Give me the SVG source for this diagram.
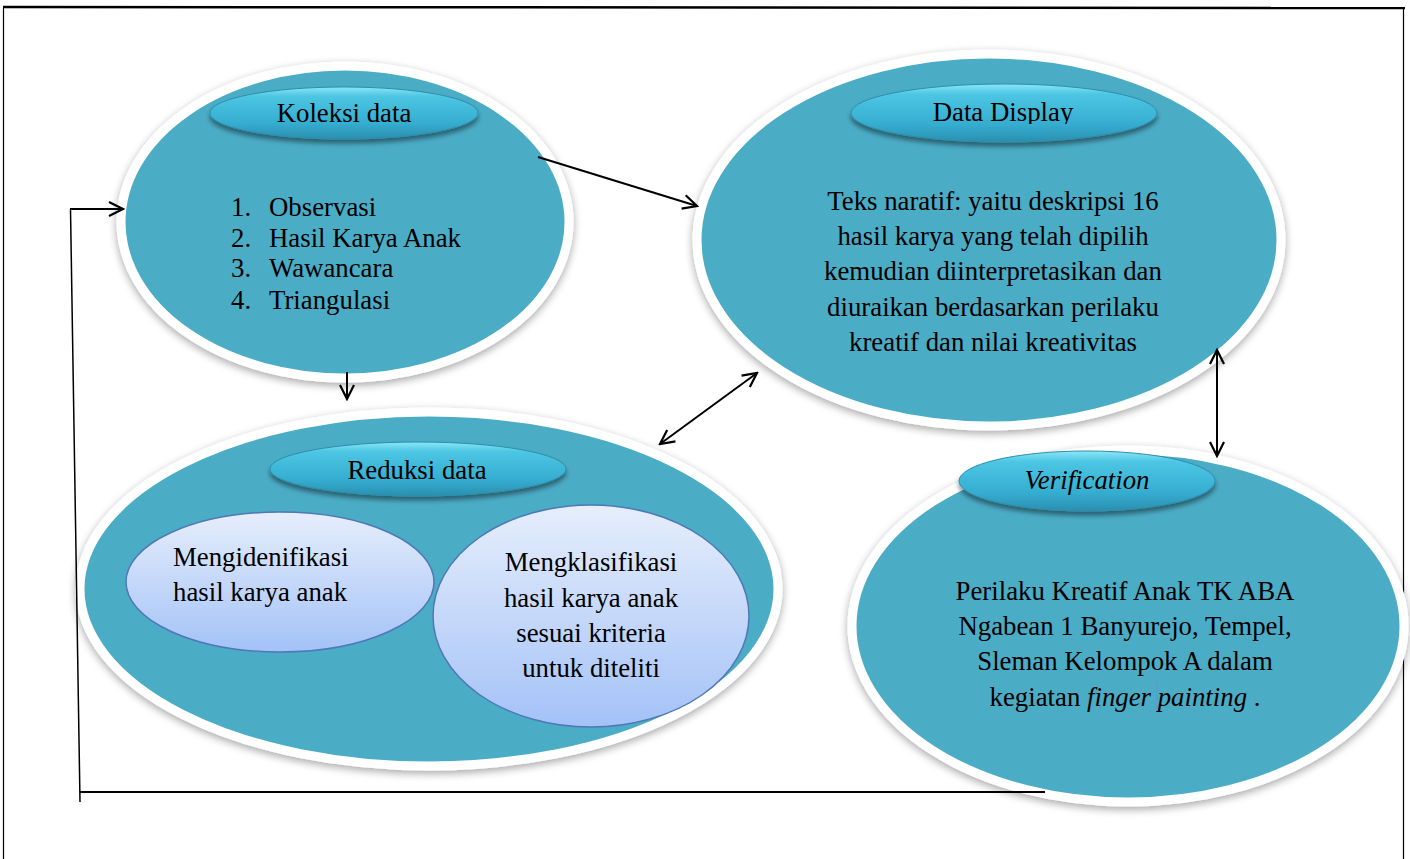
<svg xmlns="http://www.w3.org/2000/svg" width="1410" height="859" viewBox="0 0 1410 859">
<defs>
<linearGradient id="pg" x1="0" y1="0" x2="0" y2="1">
<stop offset="0" stop-color="#8be6f7"/>
<stop offset="0.18" stop-color="#4cc6e3"/>
<stop offset="0.7" stop-color="#35add0"/>
<stop offset="1" stop-color="#2a8fb0"/>
</linearGradient>
<linearGradient id="ig" x1="0" y1="0" x2="0" y2="1">
<stop offset="0" stop-color="#e6eefc"/>
<stop offset="1" stop-color="#a4c2f7"/>
</linearGradient>
<filter id="sh" x="-10%" y="-10%" width="120%" height="125%">
<feGaussianBlur in="SourceAlpha" stdDeviation="4"/>
<feOffset dx="0" dy="3"/>
<feComponentTransfer><feFuncA type="linear" slope="0.35"/></feComponentTransfer>
<feMerge><feMergeNode/><feMergeNode in="SourceGraphic"/></feMerge>
</filter>
<filter id="ps" x="-10%" y="-20%" width="120%" height="160%">
<feGaussianBlur in="SourceAlpha" stdDeviation="2.5"/>
<feOffset dx="0" dy="4"/>
<feComponentTransfer><feFuncA type="linear" slope="0.45"/></feComponentTransfer>
<feMerge><feMergeNode/><feMergeNode in="SourceGraphic"/></feMerge>
</filter>
<clipPath id="ddclip"><rect x="850" y="90" width="310" height="34"/></clipPath>
<marker id="ah" viewBox="0 0 20 20" refX="18" refY="10" markerWidth="20" markerHeight="20" markerUnits="userSpaceOnUse" orient="auto-start-reverse">
<path d="M4,3 L18,10 L4,17" fill="none" stroke="#000" stroke-width="2.2"/>
</marker>
</defs>
<rect width="1410" height="859" fill="#fff"/>
<g id="frame" stroke="#000" fill="none">
<line x1="3" y1="7" x2="1405" y2="8" stroke-width="2.5"/>
<line x1="3.5" y1="8" x2="3.5" y2="859" stroke-width="1.2"/>
<line x1="1403.5" y1="8" x2="1403.5" y2="859" stroke-width="1.2"/>
</g>
<g id="koleksi">
<ellipse fill="#4BACC6" stroke="#fff" stroke-width="9" filter="url(#sh)" cx="345" cy="222" rx="224" ry="156"/>
<ellipse fill="url(#pg)" stroke="#2f8fab" stroke-width="1" filter="url(#ps)" cx="344" cy="113" rx="134" ry="26"/>
<text font-family="Liberation Serif" font-size="26.8" text-anchor="middle" x="344" y="122">Koleksi data</text>
<text font-family="Liberation Serif" font-size="26.8" x="231" y="216">1.</text>
<text font-family="Liberation Serif" font-size="26.8" x="269" y="216">Observasi</text>
<text font-family="Liberation Serif" font-size="26.8" x="231" y="247">2.</text>
<text font-family="Liberation Serif" font-size="26.8" x="269" y="247">Hasil Karya Anak</text>
<text font-family="Liberation Serif" font-size="26.8" x="231" y="277">3.</text>
<text font-family="Liberation Serif" font-size="26.8" x="269" y="277">Wawancara</text>
<text font-family="Liberation Serif" font-size="26.8" x="231" y="309">4.</text>
<text font-family="Liberation Serif" font-size="26.8" x="269" y="309">Triangulasi</text>
</g>
<g id="display">
<ellipse fill="#4BACC6" stroke="#fff" stroke-width="9" filter="url(#sh)" cx="989" cy="240" rx="292" ry="186"/>
<ellipse fill="url(#pg)" stroke="#2f8fab" stroke-width="1" filter="url(#ps)" cx="1004" cy="113" rx="153" ry="29"/>
<text font-family="Liberation Serif" font-size="26.8" text-anchor="middle" x="1003" y="121" clip-path="url(#ddclip)">Data Display</text>
<text font-family="Liberation Serif" font-size="26.8" text-anchor="middle" x="993" y="210">Teks naratif: yaitu deskripsi 16</text>
<text font-family="Liberation Serif" font-size="26.8" text-anchor="middle" x="993" y="245">hasil karya yang telah dipilih</text>
<text font-family="Liberation Serif" font-size="26.8" text-anchor="middle" x="993" y="280">kemudian diinterpretasikan dan</text>
<text font-family="Liberation Serif" font-size="26.8" text-anchor="middle" x="993" y="316">diuraikan berdasarkan perilaku</text>
<text font-family="Liberation Serif" font-size="26.8" text-anchor="middle" x="993" y="351">kreatif dan nilai kreativitas</text>
</g>
<g id="reduksi">
<ellipse fill="#4BACC6" stroke="#fff" stroke-width="9" filter="url(#sh)" cx="429" cy="589" rx="349" ry="177"/>
<ellipse fill="url(#pg)" stroke="#2f8fab" stroke-width="1" filter="url(#ps)" cx="418" cy="469" rx="148" ry="27"/>
<text font-family="Liberation Serif" font-size="26.8" text-anchor="middle" x="417" y="479">Reduksi data</text>
</g>
<g id="identifikasi">
<ellipse fill="url(#ig)" stroke="#4f78b8" stroke-width="1.5" cx="280" cy="582" rx="154" ry="70"/>
<text font-family="Liberation Serif" font-size="26.8" x="173" y="566">Mengidenifikasi</text>
<text font-family="Liberation Serif" font-size="26.8" x="173" y="601">hasil karya anak</text>
</g>
<g id="klasifikasi">
<ellipse fill="url(#ig)" stroke="#4f78b8" stroke-width="1.5" cx="591" cy="616" rx="158" ry="111"/>
<text font-family="Liberation Serif" font-size="26.8" text-anchor="middle" x="591" y="571">Mengklasifikasi</text>
<text font-family="Liberation Serif" font-size="26.8" text-anchor="middle" x="591" y="607">hasil karya anak</text>
<text font-family="Liberation Serif" font-size="26.8" text-anchor="middle" x="591" y="642">sesuai kriteria</text>
<text font-family="Liberation Serif" font-size="26.8" text-anchor="middle" x="591" y="677">untuk diteliti</text>
</g>
<g id="verification">
<ellipse fill="#4BACC6" stroke="#fff" stroke-width="9" filter="url(#sh)" cx="1128" cy="626" rx="276" ry="176"/>
<ellipse fill="url(#pg)" stroke="#2f8fab" stroke-width="1" filter="url(#ps)" cx="1087" cy="481" rx="128" ry="30"/>
<text font-family="Liberation Serif" font-size="26.8" text-anchor="middle" font-style="italic" x="1087" y="489">Verification</text>
<text font-family="Liberation Serif" font-size="26.8" text-anchor="middle" x="1125" y="600">Perilaku Kreatif Anak TK ABA</text>
<text font-family="Liberation Serif" font-size="26.8" text-anchor="middle" x="1125" y="635">Ngabean 1 Banyurejo, Tempel,</text>
<text font-family="Liberation Serif" font-size="26.8" text-anchor="middle" x="1125" y="670">Sleman Kelompok A dalam</text>
<text font-family="Liberation Serif" font-size="26.8" text-anchor="middle" x="1125" y="706">kegiatan <tspan font-style="italic">finger painting</tspan> .</text>
<line x1="1157" y1="680" x2="1157" y2="711" stroke="#6b8fd6" stroke-width="1"/>
</g>
<g id="connectors" fill="none" stroke="#000" stroke-width="2">
<line x1="538" y1="157" x2="697" y2="206" marker-end="url(#ah)"/>
<line x1="347" y1="372" x2="347" y2="399" marker-end="url(#ah)"/>
<line x1="660" y1="444" x2="757" y2="373" marker-start="url(#ah)" marker-end="url(#ah)"/>
<line x1="1217" y1="350" x2="1217" y2="456" marker-start="url(#ah)" marker-end="url(#ah)"/>
<line x1="1045" y1="792" x2="80" y2="792"/>
<line x1="80" y1="802" x2="70.5" y2="209" stroke-width="1.5"/>
<line x1="70" y1="209" x2="123" y2="209" marker-end="url(#ah)"/>
</g>
</svg>
